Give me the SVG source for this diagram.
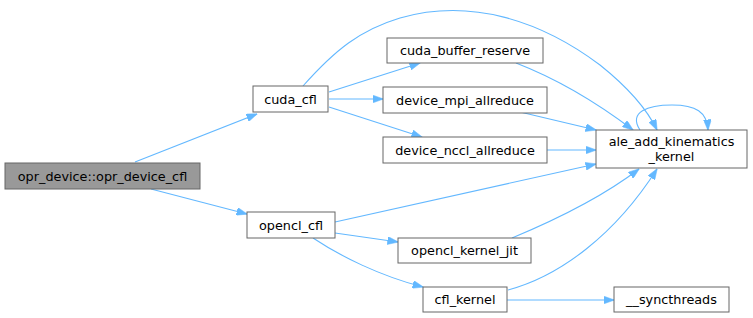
<svg xmlns="http://www.w3.org/2000/svg" width="753" height="318" viewBox="0 0 753 318">
<defs>
<style>
.n rect{fill:#ffffff;stroke:#666666;stroke-width:1}
.n.hl rect{fill:#999999}
.n text{font-family:"DejaVu Sans",sans-serif;font-size:12.8px;fill:#000000;text-anchor:middle}
.e path{fill:none;stroke:#63b8ff;stroke-width:1.1;marker-end:url(#ah)}
</style>
<marker id="ah" markerWidth="11" markerHeight="8" refX="10.5" refY="4" orient="auto" markerUnits="userSpaceOnUse">
<path d="M0,0 L11,4 L0,8 Z" fill="#63b8ff" stroke="#63b8ff" stroke-width="0.5"/>
</marker>
</defs>
<rect width="753" height="318" fill="#ffffff"/>
<g id="edges" class="e">
<path d="M135,162 L257,114"/>
<path d="M151,189 L247,214"/>
<path d="M303,86 C335,50 360,30 400,18 C470,-2 540,20 600,65 C625,85 645,105 657,130"/>
<path d="M329,99 L383,99"/>
<path d="M329,92 L420,63"/>
<path d="M329,107 L422,137"/>
<path d="M516,63 C560,80 600,105 633,130"/>
<path d="M520,112 L596,130"/>
<path d="M547,150 L596,150"/>
<path d="M640,130 C628,112 648,105 672,105 C696,105 707,112 708,130"/>
<path d="M335,222 L596,164"/>
<path d="M335,233 L398,242"/>
<path d="M313,238 C340,256 380,276 423,287"/>
<path d="M512,238 C560,218 605,195 639,169"/>
<path d="M508,290 C560,276 615,235 657,169"/>
<path d="M507,300 L614,300"/>
</g>
<g id="opr_device_cfl" class="n hl"><rect x="5" y="163" width="195" height="26"/><text x="102.5" y="180.5">opr_device::opr_device_cfl</text></g>
<g id="cuda_cfl" class="n"><rect x="253" y="86" width="75" height="26"/><text x="290.5" y="103.5">cuda_cfl</text></g>
<g id="cuda_buffer_reserve" class="n"><rect x="387" y="38" width="156" height="25"/><text x="465" y="55">cuda_buffer_reserve</text></g>
<g id="device_mpi_allreduce" class="n"><rect x="383" y="87" width="164" height="26"/><text x="465" y="104.5">device_mpi_allreduce</text></g>
<g id="device_nccl_allreduce" class="n"><rect x="383" y="137" width="164" height="26"/><text x="465" y="154.5">device_nccl_allreduce</text></g>
<g id="ale_add_kinematics_kernel" class="n"><rect x="596" y="130" width="151" height="38"/><text x="671.5" y="145.5">ale_add_kinematics</text><text x="671.5" y="160.5">_kernel</text></g>
<g id="opencl_cfl" class="n"><rect x="247" y="212" width="88" height="26"/><text x="291" y="229.5">opencl_cfl</text></g>
<g id="opencl_kernel_jit" class="n"><rect x="398" y="238" width="133" height="25"/><text x="464.5" y="255">opencl_kernel_jit</text></g>
<g id="cfl_kernel" class="n"><rect x="423" y="287" width="84" height="25"/><text x="465" y="304">cfl_kernel</text></g>
<g id="syncthreads" class="n"><rect x="614" y="287" width="115" height="25"/><text x="671.5" y="304">__syncthreads</text></g>
</svg>
